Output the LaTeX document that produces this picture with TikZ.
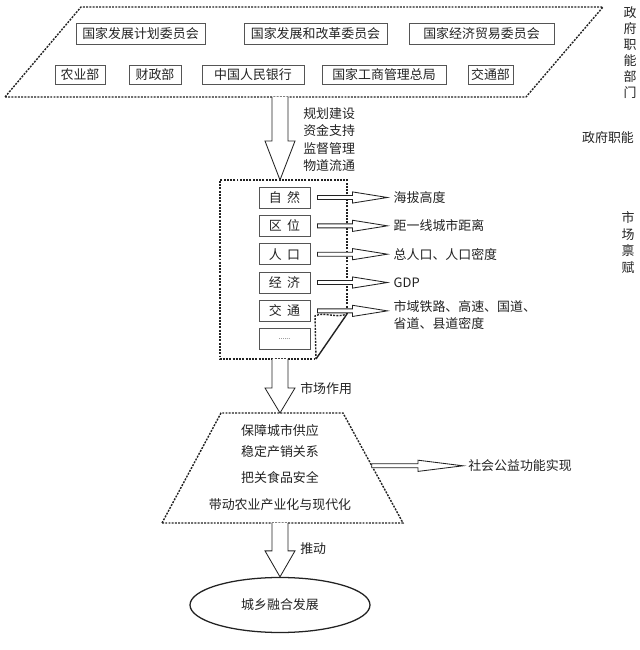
\documentclass[tikz,border=0pt]{standalone}
\usepackage{fontspec}
\setmainfont{Noto Sans CJK SC}
\usepackage{xcolor}
\usetikzlibrary{positioning,calc,shapes.geometric}
\definecolor{ink}{HTML}{222222}
\definecolor{frame}{HTML}{555555}
\newcommand{\cnsize}{\fontsize{9.2}{11}\selectfont}
\tikzset{
    dotframe/.style={draw=ink,dash pattern=on 1.4pt off 0.9pt,line width=1pt},
    deptbox/.style={draw=frame,line width=0.6pt,inner sep=1pt,text=ink,font=\cnsize},
    factorbox/.style={draw=frame,line width=0.6pt,minimum width=12.75mm,
      minimum height=5.25mm,inner sep=1pt,text=ink,font=\cnsize},
    hollow/.style={draw=ink,line width=0.6pt,fill=white,line join=miter},
    note/.style={inner sep=0pt,text=ink,font=\cnsize},
    vcap/.style={note,align=center,font=\fontsize{9.2}{11.4}\selectfont},
    goalnode/.style={ellipse,draw=ink,line width=0.9pt,minimum width=45mm,
      minimum height=13.75mm,inner sep=0pt,text=ink,font=\cnsize}
}
% open arrow pointing down: start, tip, head length
\newcommand{\hollowdown}[3]{%
  \draw[hollow] let \p1=(#1), \p2=(#2) in
    (\x2-2mm,\y1) -- (\x2-2mm,\y2+#3) -- (\x2-3.75mm,\y2+#3) -- (\x2,\y2)
    -- (\x2+3.75mm,\y2+#3) -- (\x2+2mm,\y2+#3) -- (\x2+2mm,\y1);}
% open arrow pointing right: start, tip, head length
\newcommand{\hollowright}[3]{%
  \draw[hollow] let \p1=(#1), \p2=(#2) in
    (\x1,\y1+0.5mm) -- (\x2-#3,\y1+0.5mm) -- (\x2-#3,\y1+1.4mm) -- (\x2,\y1)
    -- (\x2-#3,\y1-1.4mm) -- (\x2-#3,\y1-0.5mm) -- (\x1,\y1-0.5mm) -- cycle;}

\begin{document}
\begin{tikzpicture}
  \useasboundingbox (0,0) rectangle (16,16.25);

  % government departments
  \coordinate (pbl) at (0.125,13.825);
  \coordinate (pbr) at (13.15,13.825);
  \coordinate (ptr) at (15.075,16.075);
  \coordinate (ptl) at (2.025,16.075);
  \draw[dotframe] (pbl) -- (pbr) -- (ptr) -- (ptl) -- cycle;
  \node[deptbox,minimum width=32.25mm,minimum height=5.25mm] (plan) at (3.5125,15.4125) {国家发展计划委员会};
  \node[deptbox,minimum width=35.75mm,minimum height=5.25mm] (ndrc) at (7.8875,15.4125) {国家发展和改革委员会};
  \node[deptbox,minimum width=36.25mm,minimum height=5.25mm] (trade) at (12.0375,15.4125) {国家经济贸易委员会};
  \node[deptbox,minimum width=12.5mm,minimum height=4.75mm] (agri) at (2.0,14.3875) {农业部};
  \node[deptbox,minimum width=13mm,minimum height=4.75mm] (fina) at (3.875,14.3875) {财政部};
  \node[deptbox,minimum width=25.5mm,minimum height=4.75mm] (pboc) at (6.325,14.3875) {中国人民银行};
  \node[deptbox,minimum width=31mm,minimum height=4.75mm] (saic) at (9.6,14.3875) {国家工商管理总局};
  \node[deptbox,minimum width=11.25mm,minimum height=4.75mm] (transp) at (12.2625,14.3875) {交通部};
  \node[vcap] (deptcap) at (15.75,14.925) {政\\府\\职\\能\\部\\门};
  \node[note] (govcap) at (15.2,12.8) {政府职能};
  \node[vcap,font=\fontsize{9.2}{12}\selectfont] (mktcap) at (15.7,10.1875) {市\\场\\禀\\赋};

  % market endowment
  \coordinate (mtl) at (5.5,11.75);
  \coordinate (mtr) at (8.675,11.75);
  \coordinate (mbl) at (5.5,7.275);
  \coordinate (fa) at (7.875,8.35);
  \coordinate (fb) at (8.675,8.4);
  \coordinate (fc) at (7.9,7.275);
  \draw[dotframe] (fb) -- (mtr) -- (mtl) -- (mbl) -- (fc);
  \draw[ink,line width=1pt] (fb) -- (fc);
  \draw[dotframe] (fc) -- (fa) .. controls (8.1,8.47) and (8.4,8.28) .. (fb);

  \node[factorbox] (nat) at (7.1125,11.3125) {自\hspace{0.4em}然};
  \node[factorbox,below=1.625mm of nat] (loc) {区\hspace{0.4em}位};
  \node[factorbox,below=1.625mm of loc] (pop) {人\hspace{0.4em}口};
  \node[factorbox,below=1.625mm of pop] (eco) {经\hspace{0.4em}济};
  \node[factorbox,below=1.625mm of eco] (tra) {交\hspace{0.4em}通};
  \node[factorbox,below=1.625mm of tra,font=\tiny] (etc) {......};

  \node[note,right=20.75mm of nat] (natlab) {海拔高度};
  \node[note,right=20.75mm of loc] (loclab) {距一线城市距离};
  \node[note,right=20.75mm of pop] (poplab) {总人口、人口密度};
  \node[note,right=20.75mm of eco] (ecolab) {GDP};
  \node[note,right=20.75mm of tra,yshift=-1mm,align=left,
    font=\fontsize{9.2}{12}\selectfont] (tralab) {市域铁路、高速、国道、\\省道、县道密度};
  \foreach \f in {nat,loc,pop,eco,tra}
    \hollowright{$(\f.east)+(1.75mm,0)$}{$(\f lab.west)+(-1.5mm,0)$}{8.75mm};

  % government to market
  \coordinate (gout) at (7.0,13.825);
  \coordinate (min) at (7.0,11.75);
  \hollowdown{gout}{min}{9.75mm}
  \node[note,anchor=west,align=left,font=\fontsize{9.2}{12.5}\selectfont] (tools) at (7.575,12.7625)
    {规划建设\\资金支持\\监督管理\\物道流通};

  % functions
  \coordinate (gbl) at (4.05,3.175);
  \coordinate (gtl) at (5.525,5.925);
  \coordinate (gtr) at (8.575,5.925);
  \coordinate (gbr) at (10.075,3.175);
  \draw[dotframe] (gbl) -- (gtl) -- (gtr) -- (gbr) -- cycle;
  \node[note,align=center,font=\fontsize{9.2}{15.6}\selectfont] (goals) at (7.0,4.5625)
    {保障城市供应\\稳定产销关系\\[1mm]把关食品安全\\[1.25mm]带动农业产业化与现代化};

  \coordinate (mout) at (7.0,7.275);
  \coordinate (fnin) at (7.0,5.925);
  \hollowdown{mout}{fnin}{6.25mm}
  \node[note,anchor=west] (mktact) at (7.5,6.525) {市场作用};

  \coordinate (fside) at ($(gtr)!0.48!(gbr)$);
  \node[note,anchor=west] (publab) at (11.7,4.605) {社会公益功能实现};
  \hollowright{fside}{$(publab.west)+(-1.25mm,0)$}{11.25mm}

  % result
  \node[goalnode] (dev) at (7.0,1.125) {城乡融合发展};
  \coordinate (fout) at (7.0,3.175);
  \hollowdown{fout}{dev.north}{6.5mm}
  \node[note,anchor=west] (push) at (7.5,2.525) {推动};
\end{tikzpicture}
\end{document}
